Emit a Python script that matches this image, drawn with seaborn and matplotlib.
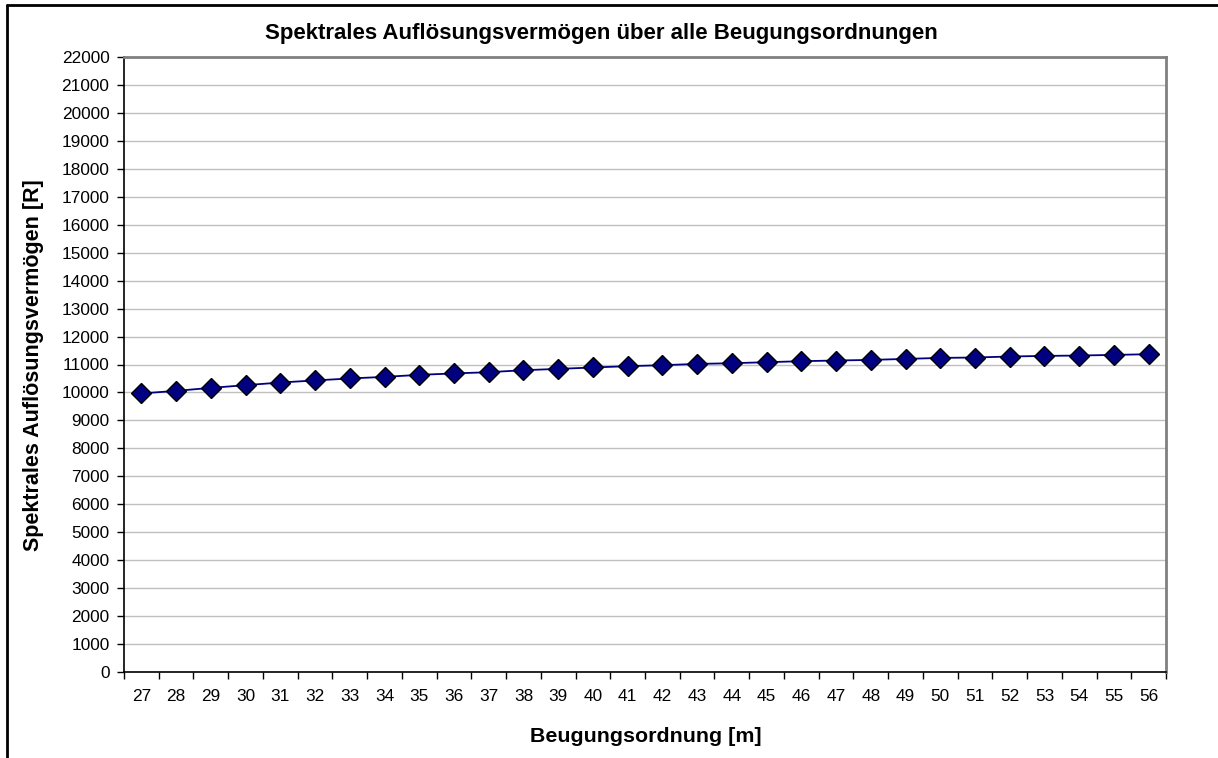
import matplotlib
matplotlib.use("Agg")
import matplotlib.pyplot as plt
import seaborn as sns
import numpy as np
import pandas as pd
from matplotlib.lines import Line2D
from matplotlib.ticker import FixedLocator, MultipleLocator

orders = list(range(27, 57))
resolution = [9965, 10057, 10164, 10260, 10355, 10430, 10500, 10557, 10630, 10680,
              10725, 10796, 10843, 10893, 10940, 10975, 11021, 11046, 11082, 11118,
              11143, 11164, 11200, 11236, 11250, 11286, 11307, 11321, 11343, 11368]
title = "Spektrales Auflösungsvermögen über alle Beugungsordnungen"
xlabel = "Beugungsordnung [m]"
ylabel = "Spektrales Auflösungsvermögen [R]"

df = pd.DataFrame({"m": orders, "R": resolution})

sns.set_style("white")
plt.rcParams["font.family"] = ["Liberation Sans", "DejaVu Sans"]
plt.rcParams["text.color"] = "black"

W, H = 1218, 758
fig = plt.figure(figsize=(W / 100, H / 100), dpi=100)
L, R_, B, T = 124, 1166, 672, 57
ax = fig.add_axes([L / W, 1 - B / H, (R_ - L) / W, (B - T) / H])

sns.lineplot(data=df, x="m", y="R", ax=ax, color="#000080", linewidth=1.3,
             marker="D", markersize=10, markerfacecolor="#000080",
             markeredgecolor="black", markeredgewidth=1.0, zorder=3)

ax.set_xlim(orders[0] - 0.5, orders[-1] + 0.5)
ax.set_ylim(0, 22000)
ax.yaxis.set_major_locator(MultipleLocator(1000))
ax.xaxis.set_major_locator(FixedLocator(orders))
ax.xaxis.set_minor_locator(FixedLocator([o - 0.5 for o in orders] + [orders[-1] + 0.5]))
ax.set_xticklabels([str(o) for o in orders])

ax.grid(axis="y", color="#c0c0c0", linewidth=1.0, zorder=0)
ax.set_axisbelow(True)

ax.tick_params(axis="x", which="major", length=0, pad=12.5, labelsize=12.4, colors="black")
ax.tick_params(axis="x", which="minor", length=5, width=1, direction="out", color="black", bottom=True)
ax.tick_params(axis="y", which="major", length=5, width=1, direction="out", pad=5.5,
               labelsize=12.4, colors="black", left=True)

for s in ["left", "bottom"]:
    ax.spines[s].set_color("black")
    ax.spines[s].set_linewidth(1.2)
for s in ["top", "right"]:
    ax.spines[s].set_color("#808080")
    ax.spines[s].set_linewidth(2)
    ax.spines[s].set_visible(True)

ax.set_xlabel("")
ax.set_ylabel("")
fig.text(646 / W, 1 - 736 / H, xlabel, ha="center", va="center", fontsize=15.4,
         fontweight="bold", color="black")
fig.text(34 / W, 1 - 365 / H, ylabel, ha="center", va="center", rotation=90,
         fontsize=15.5, fontweight="bold", color="black")
fig.text(601 / W, 1 - 33 / H, title, ha="center", va="center", fontsize=16,
         fontweight="bold", color="black")

# outer chart frame (top and left edges visible)
fig.add_artist(Line2D([7 / W, 1.0], [1 - 5 / H, 1 - 5 / H], transform=fig.transFigure,
                      color="black", linewidth=2))
fig.add_artist(Line2D([7 / W, 7 / W], [0.0, 1 - 5 / H], transform=fig.transFigure,
                      color="black", linewidth=2))

fig.savefig("out.png", dpi=100, facecolor="white")
